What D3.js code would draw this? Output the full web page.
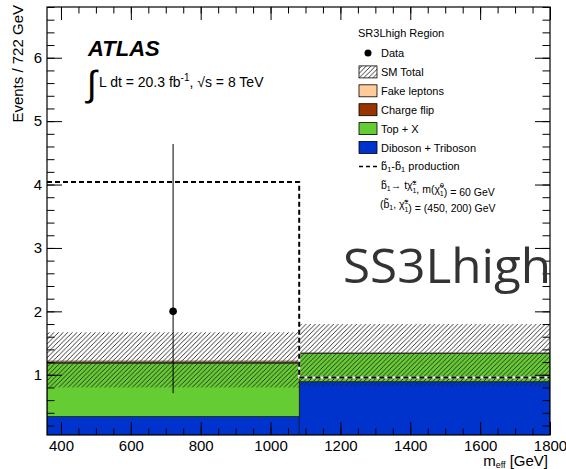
<!DOCTYPE html>
<html>
<head>
<meta charset="utf-8">
<script src="https://cdn.jsdelivr.net/npm/d3@7"></script>
<style>
  html, body { margin: 0; padding: 0; background: #fff; }
  svg { display: block; font-family: "Liberation Sans", Arial, Helvetica, sans-serif; }
</style>
</head>
<body>
<svg id="chart" width="566" height="469"></svg>
<script>
// ---------------- data ----------------
const binEdges = [360, 1082, 1800];
const diboson = [0.34, 0.89];
const topX = [0.845, 0.45];
const chargeFlip = [0.006, 0.0];
const fakeLeptons = [0.025, 0.003];
const smBandLow = [0.80, 0.82];
const smBandHigh = [1.67, 1.80];
const signal = [4.04, 0.955];
const dataCounts = [2, 0];
const dataErrLow = [1.29, 0];
const dataErrHigh = [2.64, 0];
const xMajorTicks = [400, 600, 800, 1000, 1200, 1400, 1600, 1800];
const yMajorTicks = [1, 2, 3, 4, 5, 6];

const stackSeries = [
  { name: "Diboson + Triboson", values: diboson, color: "#0033cc" },
  { name: "Top + X", values: topX, color: "#66cc33" },
  { name: "Charge flip", values: chargeFlip, color: "#993300" },
  { name: "Fake leptons", values: fakeLeptons, color: "#ffcc99" }
];

// ---------------- layout ----------------
const svg = d3.select("#chart");
const L = 47, R = 550, T = 7, B = 435;
const yMin = 0.05;
const x = d3.scaleLinear().domain([360, 1800]).range([L, R]);
const y = d3.scaleLinear().domain([yMin, 6.8]).range([B, T]);

const defs = svg.append("defs");
const pat = defs.append("pattern").attr("id", "hatch")
  .attr("patternUnits", "userSpaceOnUse").attr("width", 4.6).attr("height", 4.6);
pat.append("path").attr("d", "M-1,1 L1,-1 M0,4.6 L4.6,0 M3.6,5.6 L5.6,3.6")
  .attr("stroke", "#222").attr("stroke-width", 0.9);

defs.append("clipPath").attr("id", "plotclip")
  .append("rect").attr("x", L).attr("y", T).attr("width", R - L).attr("height", B - T);

const plot = svg.append("g").attr("clip-path", "url(#plotclip)");

// stacked histograms
const nb = binEdges.length - 1;
const cum = new Array(nb).fill(0);
stackSeries.forEach(s => {
  for (let i = 0; i < nb; i++) {
    const lo = Math.max(cum[i], yMin);
    cum[i] += s.values[i];
    const hi = cum[i];
    if (hi - lo <= 0) continue;
    plot.append("rect")
      .attr("x", x(binEdges[i])).attr("width", x(binEdges[i + 1]) - x(binEdges[i]))
      .attr("y", y(hi)).attr("height", y(lo) - y(hi))
      .attr("fill", s.color).attr("stroke", "#000").attr("stroke-width", 0.6);
  }
});

// SM total uncertainty band
for (let i = 0; i < nb; i++) {
  plot.append("rect")
    .attr("x", x(binEdges[i])).attr("width", x(binEdges[i + 1]) - x(binEdges[i]))
    .attr("y", y(smBandHigh[i])).attr("height", y(smBandLow[i]) - y(smBandHigh[i]))
    .attr("fill", "url(#hatch)");
}

// signal dashed
const sigPts = [];
for (let i = 0; i < nb; i++) {
  sigPts.push([binEdges[i], signal[i]]);
  sigPts.push([binEdges[i + 1], signal[i]]);
}
const sigLine = d3.line().x(d => x(d[0])).y(d => y(d[1]));
plot.append("path").attr("d", sigLine(sigPts)).attr("fill", "none")
  .attr("stroke", "#fff").attr("stroke-width", 2);
plot.append("path").attr("d", sigLine(sigPts)).attr("fill", "none")
  .attr("stroke", "#000").attr("stroke-width", 2).attr("stroke-dasharray", "5,3");

// data
for (let i = 0; i < nb; i++) {
  if (dataCounts[i] <= 0) continue;
  const cx = x((binEdges[i] + binEdges[i + 1]) / 2);
  plot.append("line").attr("x1", cx).attr("x2", cx)
    .attr("y1", y(dataCounts[i] - dataErrLow[i])).attr("y2", y(dataCounts[i] + dataErrHigh[i]))
    .attr("stroke", "#000").attr("stroke-width", 1);
  plot.append("circle").attr("cx", cx).attr("cy", y(dataCounts[i])).attr("r", 3.8).attr("fill", "#000");
}

// ---------------- axes ----------------
const xMinor = d3.range(400, 1801, 50);
const yMinor = d3.range(0.2, 6.81, 0.2).map(v => +v.toFixed(2));
const ax = svg.append("g");
function drawAxis(gen, tx, ty) {
  const g = ax.append("g").attr("transform", `translate(${tx},${ty})`).call(gen);
  g.select(".domain").remove();
  g.selectAll("line").attr("stroke", "#000");
  g.selectAll("text").attr("font-size", 15).attr("fill", "#000");
  return g;
}
// bottom
drawAxis(d3.axisBottom(x).tickValues(xMajorTicks).tickSize(-13).tickPadding(5).tickFormat(d3.format("d")), 0, B);
drawAxis(d3.axisBottom(x).tickValues(xMinor).tickSize(-6.5).tickFormat(""), 0, B);
// top
drawAxis(d3.axisTop(x).tickValues(xMajorTicks).tickSize(-13).tickFormat(""), 0, T);
drawAxis(d3.axisTop(x).tickValues(xMinor).tickSize(-6.5).tickFormat(""), 0, T);
// left
drawAxis(d3.axisLeft(y).tickValues(yMajorTicks).tickSize(-15).tickPadding(5).tickFormat(d3.format("d")), L, 0);
drawAxis(d3.axisLeft(y).tickValues(yMinor).tickSize(-7.5).tickFormat(""), L, 0);
// right
drawAxis(d3.axisRight(y).tickValues(yMajorTicks).tickSize(-15).tickFormat(""), R, 0);
drawAxis(d3.axisRight(y).tickValues(yMinor).tickSize(-7.5).tickFormat(""), R, 0);

// frame
svg.append("rect").attr("x", L).attr("y", T).attr("width", R - L).attr("height", B - T)
  .attr("fill", "none").attr("stroke", "#000").attr("stroke-width", 1.2);

// axis titles
const xt = svg.append("text").attr("x", 548).attr("y", 466).attr("text-anchor", "end")
  .attr("font-size", 15).attr("fill", "#000");
xt.append("tspan").text("m");
xt.append("tspan").attr("font-size", 9).attr("dy", 2).text("eff");
xt.append("tspan").attr("dy", -2).text(" [GeV]");

svg.append("text").attr("transform", "translate(23,5) rotate(-90)").attr("text-anchor", "end")
  .attr("font-size", 15).attr("fill", "#000").text("Events / 722 GeV");

// ATLAS label
svg.append("text").attr("x", 88).attr("y", 56).attr("font-size", 22)
  .attr("font-weight", "bold").attr("font-style", "italic").text("ATLAS");
svg.append("text").attr("x", 87).attr("y", 96).attr("font-size", 36).attr("font-weight", 300).text("∫");
const lumi = svg.append("text").attr("x", 99).attr("y", 87).attr("font-size", 14);
lumi.append("tspan").text("L dt = 20.3 fb");
lumi.append("tspan").attr("font-size", 10).attr("dy", -6).text("-1");
lumi.append("tspan").attr("dy", 6).text(", √s = 8 TeV");

// big label
svg.append("text").attr("x", 343).attr("y", 283).attr("font-size", 47)
  .attr("font-family", "'Open Sans', 'Noto Sans', sans-serif").attr("fill", "#333")
  .attr("textLength", 208).attr("lengthAdjust", "spacingAndGlyphs").text("SS3Lhigh");

// ---------------- legend ----------------
const lg = svg.append("g");
const lx = 359, tx0 = 381;
lg.append("text").attr("x", lx - 1).attr("y", 37).attr("font-size", 11).text("SR3Lhigh Region");
const rowY = i => 53 + i * 18.9;
// Data
lg.append("circle").attr("cx", 368).attr("cy", rowY(0)).attr("r", 3.5).attr("fill", "#000");
lg.append("text").attr("x", tx0).attr("y", rowY(0) + 4).attr("font-size", 11).text("Data");
// SM total
lg.append("rect").attr("x", lx).attr("y", rowY(1) - 6).attr("width", 18).attr("height", 12)
  .attr("fill", "url(#hatch)").attr("stroke", "#000").attr("stroke-width", 0.8);
lg.append("text").attr("x", tx0).attr("y", rowY(1) + 4).attr("font-size", 11).text("SM Total");
const legStack = stackSeries.slice().reverse();
legStack.forEach((s, k) => {
  const i = k + 2;
  lg.append("rect").attr("x", lx).attr("y", rowY(i) - 6).attr("width", 18).attr("height", 12)
    .attr("fill", s.color).attr("stroke", "#000").attr("stroke-width", 0.8);
  lg.append("text").attr("x", tx0).attr("y", rowY(i) + 4).attr("font-size", 11).text(s.name);
});
// signal
lg.append("line").attr("x1", lx).attr("x2", lx + 19).attr("y1", rowY(6)).attr("y2", rowY(6))
  .attr("stroke", "#000").attr("stroke-width", 1.5).attr("stroke-dasharray", "4,3");
const s1 = lg.append("text").attr("x", tx0).attr("y", rowY(6) + 4).attr("font-size", 11);
s1.append("tspan").text("b\u0303");
s1.append("tspan").attr("font-size", 7.5).attr("dy", 2).text("1");
s1.append("tspan").attr("dy", -2).text("-b\u0303");
s1.append("tspan").attr("font-size", 7.5).attr("dy", 2).text("1");
s1.append("tspan").attr("dy", -2).text(" production");

function chi(t, sup) {
  t.append("tspan").text("\u03c7\u0303");
  t.append("tspan").attr("font-size", 7).attr("dy", -4.5).text(sup);
  t.append("tspan").attr("font-size", 7).attr("dx", -4).attr("dy", 8).text("1");
  t.append("tspan").attr("dy", -3.5).text("");
}
const s2 = lg.append("text").attr("x", tx0).attr("y", rowY(7) + 4).attr("font-size", 10.5);
s2.append("tspan").text("b\u0303");
s2.append("tspan").attr("font-size", 7).attr("dy", 2).text("1");
s2.append("tspan").attr("dy", -2).text("\u2192 t");
chi(s2, "\u00b1");
s2.append("tspan").text(", m(");
chi(s2, "0");
s2.append("tspan").text(") = 60 GeV");

const s3 = lg.append("text").attr("x", tx0 - 1).attr("y", rowY(8) + 4).attr("font-size", 10.5);
s3.append("tspan").text("(b\u0303");
s3.append("tspan").attr("font-size", 7).attr("dy", 2).text("1");
s3.append("tspan").attr("dy", -2).text(", ");
chi(s3, "\u00b1");
s3.append("tspan").text(") = (450, 200) GeV");
</script>
</body>
</html>
